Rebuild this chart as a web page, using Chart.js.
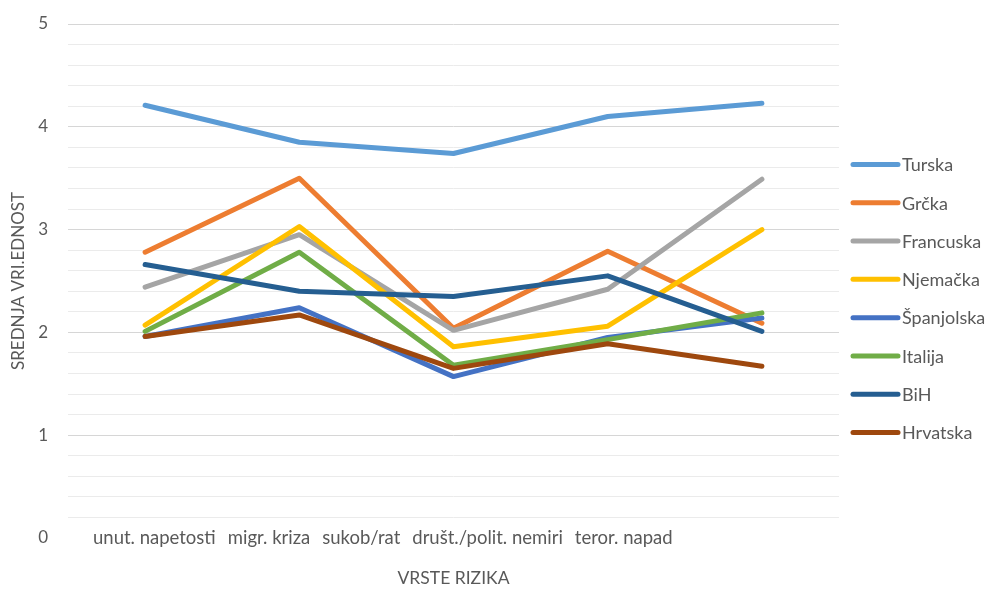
<!DOCTYPE html>
<html>
<head>
<meta charset="utf-8">
<script src="https://cdn.jsdelivr.net/npm/chart.js@4"></script>
<style>
  body{margin:0;background:#fff;}
</style>
</head>
<body>
<canvas id="myChart" width="990" height="593"></canvas>
<script>
const categories = ["unut. napetosti", "migr. kriza", "sukob/rat", "društ./polit. nemiri", "teror. napad"];
const countries = ["Turska", "Grčka", "Francuska", "Njemačka", "Španjolska", "Italija", "BiH", "Hrvatska"];
const turska = [4.21, 3.85, 3.74, 4.10, 4.23];
const grcka = [2.78, 3.50, 2.04, 2.79, 2.09];
const francuska = [2.44, 2.95, 2.02, 2.42, 3.49];
const njemacka = [2.07, 3.03, 1.86, 2.06, 3.00];
const spanjolska = [1.96, 2.24, 1.57, 1.95, 2.14];
const italija = [2.01, 2.78, 1.68, 1.93, 2.19];
const bih = [2.66, 2.40, 2.35, 2.55, 2.01];
const hrvatska = [1.96, 2.17, 1.65, 1.89, 1.67];
const yTicks = [0, 1, 2, 3, 4, 5];

const colors = ["#5B9BD5", "#ED7D31", "#A5A5A5", "#FFC000", "#4472C4", "#70AD47", "#255E91", "#9E480E"];
const values = [turska, grcka, francuska, njemacka, spanjolska, italija, bih, hrvatska];
const fontFam = "Lato, 'Liberation Sans', sans-serif";
const textColor = "#595959";

const ctx = document.getElementById('myChart');

let datasets = countries.map((name, i) => {
  return {
    label: name,
    data: values[i],
    borderColor: colors[i],
    backgroundColor: colors[i],
    borderWidth: 5,
    borderCapStyle: "round",
    borderJoinStyle: "round",
    pointRadius: 0,
    tension: 0,
    order: countries.length - i
  };
});

// category names sit in one row on the zero line, like in the original
const catLabels = {
  id: "catLabels",
  afterDraw(chart) {
    let c = chart.ctx;
    let area = chart.chartArea;
    c.save();
    c.font = "18.5px " + fontFam;
    c.fillStyle = textColor;
    c.textBaseline = "middle";
    let x = area.left + 25;
    let y = chart.scales.y.getPixelForValue(0);
    categories.forEach((t) => {
      c.fillText(t, x, y);
      x += c.measureText(t).width + 12;
    });
    c.restore();
  }
};

const sideLegend = {
  id: "sideLegend",
  afterDraw(chart) {
    let c = chart.ctx;
    let area = chart.chartArea;
    let step = 38.3;
    let n = chart.data.datasets.length;
    let y0 = chart.height / 2 + 2 - (n - 1) * step / 2;
    let x0 = area.right + 14;
    c.save();
    c.font = "18px " + fontFam;
    c.textBaseline = "middle";
    chart.data.datasets.forEach((ds, i) => {
      let y = y0 + i * step;
      c.strokeStyle = ds.borderColor;
      c.lineWidth = 5;
      c.lineCap = "round";
      c.beginPath();
      c.moveTo(x0, y);
      c.lineTo(x0 + 45, y);
      c.stroke();
      c.fillStyle = textColor;
      c.fillText(ds.label, x0 + 49, y + 1);
    });
    c.restore();
  }
};

var myChart = new Chart(ctx, {
  type: 'line',
  data: {
    labels: categories,
    datasets: datasets
  },
  plugins: [catLabels, sideLegend],
  options: {
    responsive: false,
    animation: false,
    layout: { padding: { left: 0, right: 151, top: 24, bottom: 0 } },
    plugins: {
      legend: { display: false },
      tooltip: { enabled: false }
    },
    scales: {
      x: {
        offset: true,
        grid: { display: false, drawTicks: false },
        border: { display: false },
        ticks: { display: false },
        afterFit: (scale) => { scale.height = 55; },
        title: {
          display: true,
          text: "VRSTE RIZIKA",
          color: textColor,
          font: { family: fontFam, size: 17.5 },
          padding: { top: 33, bottom: 4 }
        }
      },
      y: {
        min: 0,
        max: 5,
        border: { display: false },
        afterFit: (scale) => {
          scale.width = 68;
          scale.paddingTop = 0;
          scale.paddingBottom = 0;
        },
        grid: {
          drawTicks: false,
          color: (g) => {
            let v = g.tick.value;
            if (Math.abs(v) < 1e-6) return "rgba(0,0,0,0)";
            if (Math.abs(v - Math.round(v)) < 1e-6) return "#d6d6d6";
            return "#ebebeb";
          }
        },
        ticks: {
          stepSize: 0.2,
          autoSkip: false,
          padding: 20,
          color: textColor,
          font: { family: fontFam, size: 17 },
          callback: (v) => {
            let r = Math.round(v);
            return (Math.abs(v - r) < 1e-6 && yTicks.includes(r)) ? String(r) : "";
          }
        },
        title: {
          display: true,
          text: "SREDNJA VRI.EDNOST",
          color: textColor,
          font: { family: fontFam, size: 17 },
          padding: { top: 8, bottom: 10 }
        }
      }
    }
  }
});
</script>
</body>
</html>
